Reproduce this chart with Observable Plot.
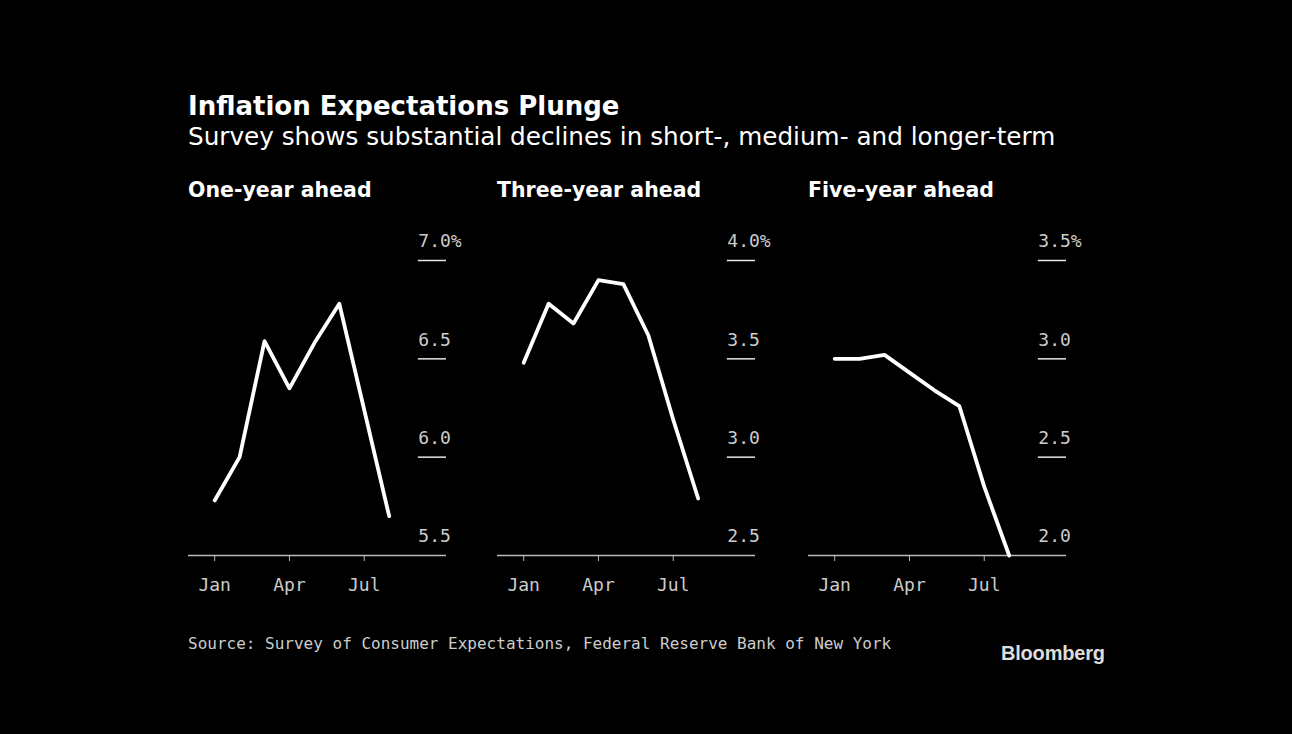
<!DOCTYPE html>
<html>
<head>
<meta charset="utf-8">
<script src="https://cdn.jsdelivr.net/npm/d3@7"></script>
<script src="https://cdn.jsdelivr.net/npm/@observablehq/plot@0.6"></script>
<style>
  html, body { margin: 0; padding: 0; background: #000; }
  #root { position: relative; width: 1292px; height: 734px; background: #000; overflow: hidden; }
  .title { position: absolute; left: 188px; top: 90px; color: #fff; font: bold 26px "DejaVu Sans"; line-height: 32px; white-space: nowrap; }
  .subtitle { position: absolute; left: 188px; top: 122px; color: #fff; font: 24.7px "DejaVu Sans"; line-height: 30px; white-space: nowrap; }
  .ptitle { position: absolute; top: 177px; color: #fff; font: bold 20.5px "DejaVu Sans"; line-height: 26px; white-space: nowrap; }
  .panel { position: absolute; top: 220px; }
  .source { position: absolute; left: 188px; top: 633px; color: #ccc; font: 16px "DejaVu Sans Mono"; line-height: 22px; white-space: nowrap; }
  .logo { position: absolute; left: 1001px; top: 641px; color: #ddd; font: bold 20px "Liberation Sans"; letter-spacing: -0.2px; line-height: 24px; }
</style>
</head>
<body>
<div id="root">
  <div class="title">Inflation Expectations Plunge</div>
  <div class="subtitle">Survey shows substantial declines in short-, medium- and longer-term</div>
  <div class="source">Source: Survey of Consumer Expectations, Federal Reserve Bank of New York</div>
  <div class="logo">Bloomberg</div>
</div>
<script>
// Data (2022, monthly, Jan–Aug)
const months = ["Jan", "Feb", "Mar", "Apr", "May", "Jun", "Jul", "Aug"];
const monthIndex = [1, 2, 3, 4, 5, 6, 7, 8];
const panelTitles = ["One-year ahead", "Three-year ahead", "Five-year ahead"];
const oneYear = [5.78, 6.0, 6.59, 6.35, 6.58, 6.78, 6.24, 5.7];
const threeYear = [3.48, 3.78, 3.68, 3.9, 3.88, 3.62, 3.19, 2.79];
const fiveYear = [3.0, 3.0, 3.02, 2.93, 2.84, 2.76, 2.35, 2.0];
const yTicks1 = [5.5, 6.0, 6.5, 7.0];
const yTicks2 = [2.5, 3.0, 3.5, 4.0];
const yTicks3 = [2.0, 2.5, 3.0, 3.5];
const xTickMonths = [1, 4, 7];

const panels = [
  {title: panelTitles[0], values: oneYear, ticks: yTicks1, left: 188},
  {title: panelTitles[1], values: threeYear, ticks: yTicks2, left: 497},
  {title: panelTitles[2], values: fiveYear, ticks: yTicks3, left: 808}
];

const root = document.getElementById("root");
const xDomain = [-0.05, 10.3];
const tickStart = 9.17;

panels.forEach((p) => {
  const t = document.createElement("div");
  t.className = "ptitle";
  t.style.left = p.left + "px";
  t.textContent = p.title;
  root.appendChild(t);

  const data = monthIndex.map((m, i) => ({m, v: p.values[i]}));
  const yMin = p.ticks[0], yMax = p.ticks[p.ticks.length - 1];
  const chart = Plot.plot({
    width: 300,
    height: 380,
    marginLeft: 0,
    marginRight: 42,
    marginTop: 40,
    marginBottom: 45,
    style: {background: "transparent", color: "#ccc", fontFamily: "DejaVu Sans Mono", fontSize: "18px", overflow: "visible"},
    x: {domain: xDomain, axis: null},
    y: {domain: [yMin, yMax], axis: null},
    marks: [
      Plot.ruleY(p.ticks.slice(1), {y: d => d, x1: tickStart, x2: xDomain[1], stroke: "#e6e6e6", strokeWidth: 1.5}),
      Plot.text(p.ticks, {x: tickStart, y: d => d, text: (d, i) => d.toFixed(1) + (i === p.ticks.length - 1 ? "%" : ""), textAnchor: "start", dy: -19, fill: "#ccc", fontSize: 18}),
      Plot.ruleY([yMin], {stroke: "#bbb", strokeWidth: 1.5}),
      Plot.axisX({ticks: xTickMonths, tickFormat: d => months[d - 1], tickSize: 6, tickPadding: 17, stroke: "#bbb", fill: "#ccc", fontSize: 18, anchor: "bottom", label: null}),
      Plot.line(data, {x: "m", y: "v", stroke: "#fff", strokeWidth: 3.8})
    ]
  });
  chart.classList.add("panel");
  chart.style.left = p.left + "px";
  root.appendChild(chart);
});
</script>
</body>
</html>
